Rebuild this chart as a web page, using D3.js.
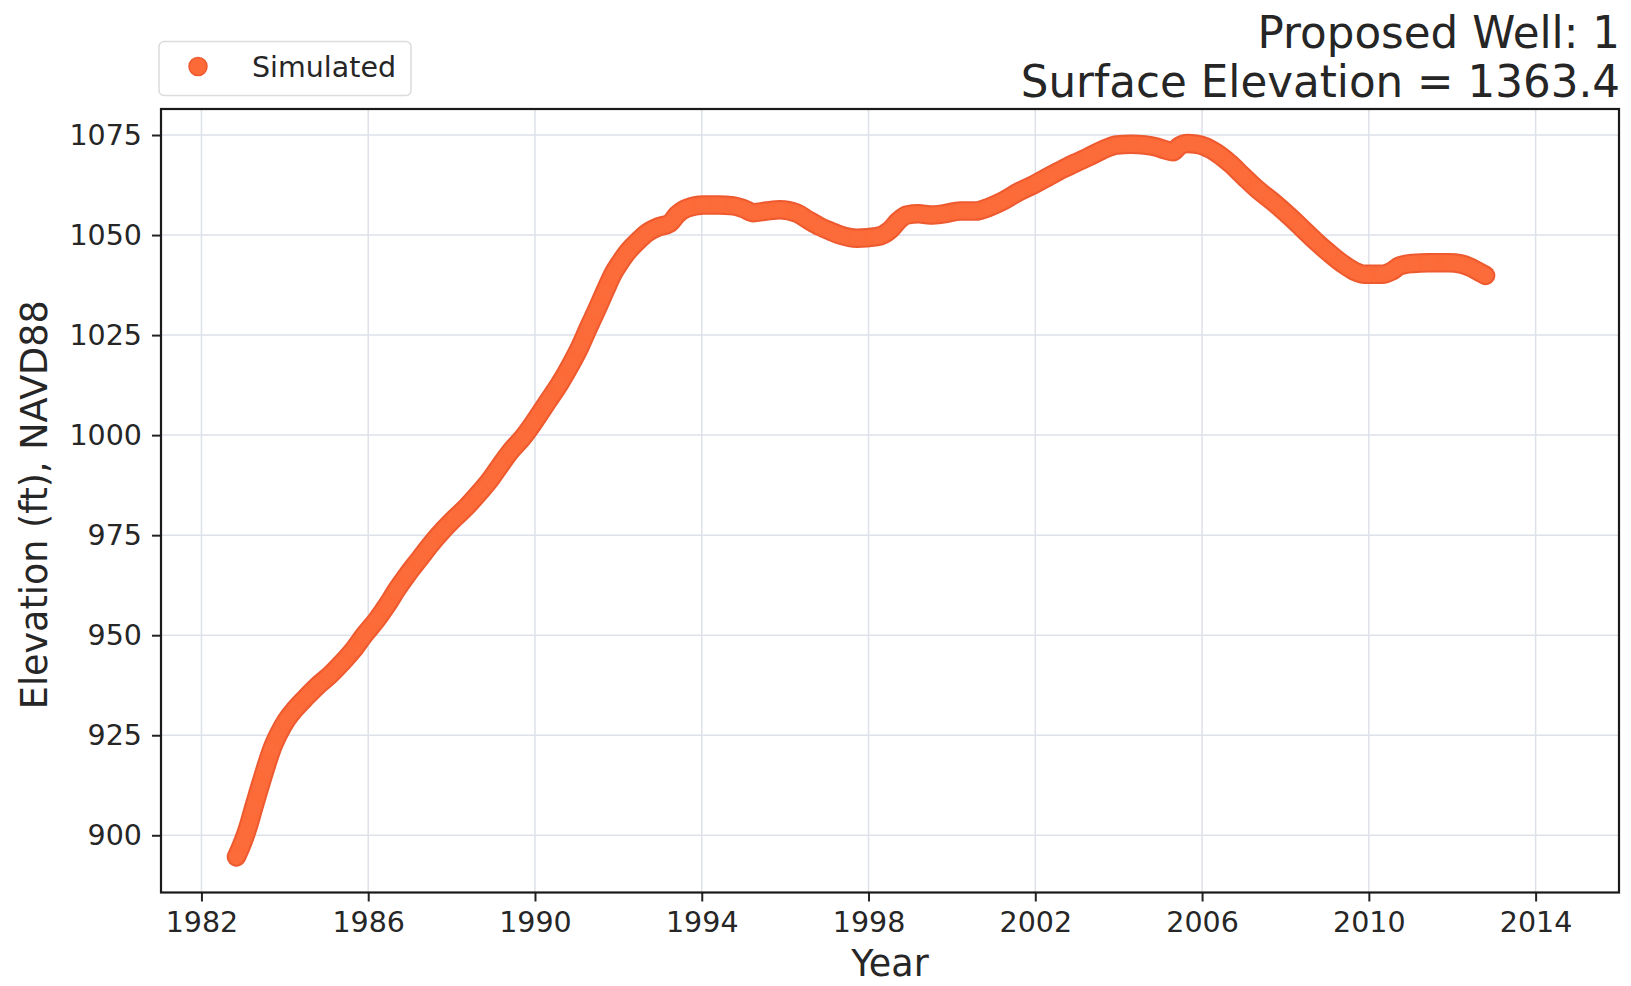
<!DOCTYPE html>
<html>
<head>
<meta charset="utf-8">
<script src="https://cdn.jsdelivr.net/npm/d3@7"></script>
<style>
  html, body { margin: 0; padding: 0; background: #fff; }
  svg { display: block; font-family: "DejaVu Sans", sans-serif; }
</style>
</head>
<body>
<svg id="chart" width="1631" height="986"></svg>
<script>
// ---- data ----
const years = [1982.84,1983.0,1983.12,1983.25,1983.40,1983.55,1983.68,1983.85,1984.04,1984.25,1984.52,1984.8,1985.08,1985.36,1985.64,1985.9,1986.2,1986.45,1986.68,1986.95,1987.24,1987.5,1987.8,1988.08,1988.36,1988.68,1988.92,1989.15,1989.4,1989.7,1989.96,1990.3,1990.6,1990.85,1991.08,1991.28,1991.48,1991.68,1991.88,1992.05,1992.2,1992.45,1992.68,1992.95,1993.24,1993.4,1993.64,1994.04,1994.4,1994.76,1995.0,1995.24,1995.55,1995.88,1996.28,1996.55,1996.84,1997.1,1997.32,1997.72,1998.2,1998.52,1998.72,1998.92,1999.2,1999.48,1999.8,2000.2,2000.56,2000.9,2001.24,2001.6,2002.0,2002.35,2002.68,2003.0,2003.27,2003.6,2003.95,2004.3,2004.63,2004.9,2005.14,2005.3,2005.45,2005.65,2005.85,2006.07,2006.35,2006.67,2007.0,2007.35,2007.7,2008.03,2008.37,2008.71,2009.05,2009.39,2009.65,2009.9,2010.32,2010.55,2010.74,2011.05,2011.42,2011.93,2012.2,2012.44,2012.62,2012.8];
const elevations = [894.6,898.5,902.1,906.8,912.1,917.2,921.3,925.3,928.8,931.6,934.6,937.5,940.0,943.0,946.3,950.0,953.8,957.5,961.3,965.3,969.2,972.7,976.3,979.3,982.1,985.8,988.8,992.2,995.8,999.3,1003.0,1008.3,1013.0,1017.5,1022.1,1026.8,1031.3,1036.0,1040.5,1043.3,1045.5,1048.3,1050.5,1052.0,1053.0,1055.0,1056.7,1057.5,1057.5,1057.3,1056.6,1055.6,1056.0,1056.3,1055.5,1053.8,1052.1,1050.9,1050.0,1049.2,1049.6,1051.3,1053.6,1055.0,1055.3,1055.0,1055.3,1056.0,1056.0,1057.0,1058.6,1060.8,1062.8,1064.8,1066.6,1068.2,1069.5,1071.2,1072.5,1072.7,1072.5,1072.0,1071.2,1070.8,1072.2,1072.9,1072.7,1072.1,1070.5,1067.9,1064.6,1061.2,1058.3,1055.3,1052.0,1048.6,1045.5,1042.7,1041.0,1040.2,1040.2,1041.0,1042.3,1042.9,1043.1,1043.1,1042.8,1041.9,1040.9,1039.9];
const xTicks = [1982,1986,1990,1994,1998,2002,2006,2010,2014];
const yTicks = [900,925,950,975,1000,1025,1050,1075];
const seriesName = "Simulated";
const titleLines = ["Proposed Well: 1", "Surface Elevation = 1363.4"];
const xLabel = "Year";
const yLabel = "Elevation (ft), NAVD88";

// ---- layout ----
const plot = { left: 161, right: 1619, top: 109, bottom: 892.5 };
const svg = d3.select("#chart");

const x = d3.scaleLinear().domain([1981.03, 2016.0]).range([plot.left, plot.right]);
const y = d3.scaleLinear().domain([885.7, 1081.5]).range([plot.bottom, plot.top]);

const textColor = "#262626";
const gridColor = "#dde1e8";

// grid
const g = svg.append("g");
g.selectAll("line.gx").data(xTicks).join("line")
  .attr("x1", d => x(d)).attr("x2", d => x(d))
  .attr("y1", plot.top).attr("y2", plot.bottom)
  .attr("stroke", gridColor).attr("stroke-width", 1.5);
g.selectAll("line.gy").data(yTicks).join("line")
  .attr("x1", plot.left).attr("x2", plot.right)
  .attr("y1", d => y(d)).attr("y2", d => y(d))
  .attr("stroke", gridColor).attr("stroke-width", 1.5);

// series
const data = years.map((yr, i) => ({ x: yr, y: elevations[i] }));
const line = d3.line().x(d => x(d.x)).y(d => y(d.y)).curve(d3.curveMonotoneX);
svg.append("path").datum(data).attr("d", line)
  .attr("fill", "none").attr("stroke", "#ee5a30").attr("stroke-width", 19.5)
  .attr("stroke-linecap", "round").attr("stroke-linejoin", "round");
svg.append("path").datum(data).attr("d", line)
  .attr("fill", "none").attr("stroke", "#fc6a38").attr("stroke-width", 15.5)
  .attr("stroke-linecap", "round").attr("stroke-linejoin", "round");
svg.append("g").selectAll("circle").data(data).join("circle")
  .attr("cx", d => x(d.x)).attr("cy", d => y(d.y)).attr("r", 7)
  .attr("fill", "#fc6c3b");

// axes
const xAxis = d3.axisBottom(x).tickValues(xTicks).tickFormat(d3.format("d")).tickSizeOuter(0).tickSize(9).tickPadding(10);
const yAxis = d3.axisLeft(y).tickValues(yTicks).tickFormat(d3.format("d")).tickSizeOuter(0).tickSize(9).tickPadding(10);
const gx = svg.append("g").attr("transform", `translate(0,${plot.bottom})`).call(xAxis);
const gy = svg.append("g").attr("transform", `translate(${plot.left},0)`).call(yAxis);
[gx, gy].forEach(a => {
  a.select(".domain").remove();
  a.selectAll(".tick line").attr("stroke", "#222").attr("stroke-width", 2);
  a.selectAll(".tick text").attr("fill", textColor).attr("font-size", 28.5)
    .attr("font-family", "DejaVu Sans");
});

// frame
svg.append("rect").attr("x", plot.left).attr("y", plot.top)
  .attr("width", plot.right - plot.left).attr("height", plot.bottom - plot.top)
  .attr("fill", "none").attr("stroke", "#1a1a1a").attr("stroke-width", 2.2);

// axis labels
svg.append("text").attr("x", (plot.left + plot.right) / 2).attr("y", 976)
  .attr("text-anchor", "middle").attr("font-size", 36.5).attr("fill", textColor).text(xLabel);
svg.append("text").attr("transform", `translate(47,${(plot.top + plot.bottom) / 2 + 4}) rotate(-90)`)
  .attr("text-anchor", "middle").attr("font-size", 36.5).attr("fill", textColor).text(yLabel);

// title
svg.append("g").selectAll("text").data(titleLines).join("text")
  .attr("x", 1620).attr("y", (d, i) => 48 + i * 49)
  .attr("text-anchor", "end").attr("font-size", 43.6).attr("fill", textColor).text(d => d);

// legend
const lg = svg.append("g");
lg.append("rect").attr("x", 159).attr("y", 41.5).attr("width", 252).attr("height", 54)
  .attr("rx", 5).attr("fill", "#fff").attr("stroke", "#dcdcdc").attr("stroke-width", 1.5);
lg.append("circle").attr("cx", 198).attr("cy", 66.5).attr("r", 9)
  .attr("fill", "#fc6a38").attr("stroke", "#ee5a30").attr("stroke-width", 1.5);
lg.append("text").attr("x", 252).attr("y", 77).attr("font-size", 28.5)
  .attr("fill", textColor).text(seriesName);
</script>
</body>
</html>
